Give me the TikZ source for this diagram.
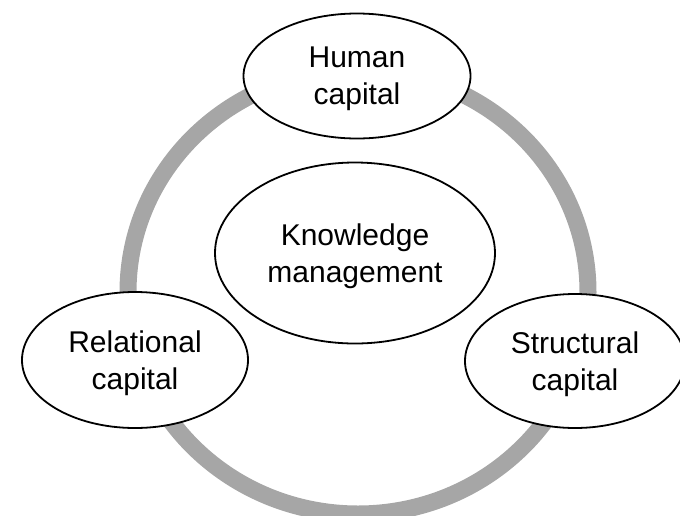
\documentclass[tikz,border=0pt]{standalone}
\usepackage{fontspec}
\setmainfont{Liberation Sans}
\usetikzlibrary{shapes.geometric}
\definecolor{ringgray}{RGB}{166,166,166}
\tikzset{capital/.style={ellipse, draw, line width=1.8pt, fill=white, inner sep=0pt,
    align=center, text depth=0pt, font=\fontsize{30}{37}\selectfont}}

\begin{document}
\begin{tikzpicture}[x=1pt, y=-1pt]
  \useasboundingbox (0,0) rectangle (680,515);
  \clip (0,0) rectangle (680,515);
  % ring behind the four ellipses
  \draw[ringgray, line width=17pt] (358,292) ellipse [x radius=230, y radius=222];

  \node[capital, minimum width=227pt, minimum height=125pt] (human) at (357,76) {Human\\capital};
  \node[capital, minimum width=280pt, minimum height=181pt] (knowledge) at (355,253) {Knowledge\\management};
  \node[capital, minimum width=226pt, minimum height=136pt] (relational) at (135,360) {Relational\\capital};
  \node[capital, minimum width=220pt, minimum height=134pt] (structural) at (575,361) {Structural\\capital};
\end{tikzpicture}
\end{document}
